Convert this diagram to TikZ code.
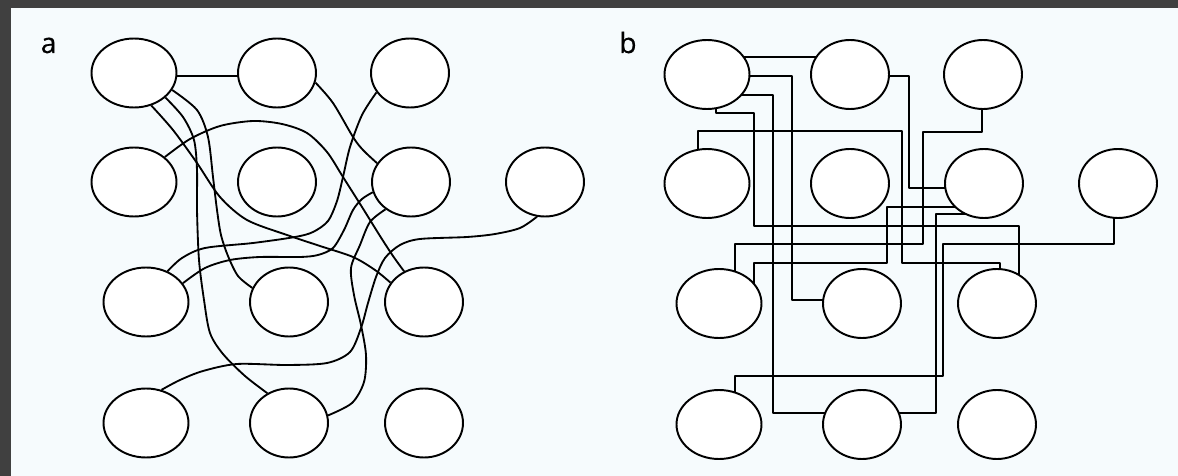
\documentclass[tikz,border=0pt]{standalone}
\usepackage{fontspec}
\setmainfont{Open Sans}
\newfontfamily\panelfont[FakeBold=0.6]{Open Sans}
\usetikzlibrary{shapes.geometric}
\pgfdeclarelayer{paper}
\pgfdeclarelayer{links}
\pgfsetlayers{paper,links,main}
\definecolor{paperbg}{RGB}{246,251,253}
\definecolor{framegray}{RGB}{64,64,64}

\begin{document}
\begin{tikzpicture}[x=0.02cm,y=0.02cm,
  cell/.style={ellipse,draw,line width=1.1pt,fill=white,
    minimum width=1.56cm,minimum height=1.38cm,inner sep=0pt},
  widecell/.style={cell,minimum width=1.70cm},
  panel/.style={anchor=base west,inner sep=0pt,font=\panelfont\fontsize{16}{19}\selectfont},
  wire/.style={line width=1.05pt,line join=round}]
  \useasboundingbox (0,0) rectangle (1178,-476);
  \begin{pgfonlayer}{paper}
    \fill[framegray] (0,0) rectangle (1178,-476);
    \fill[paperbg] (11,-8) rectangle (1178,-476);
  \end{pgfonlayer}
  \node[panel] (la) at (40.5,-53) {a};
  \node[panel] (lb) at (619,-53) {b};
  % the same grid of cells in both panels
  \foreach \p/\dx/\dy in {a/0/0,b/573/-1.5} {
    \begin{scope}[shift={(\dx,\dy)}]
      \foreach \n/\x/\y in {11/134/73,21/134/182,31/146/302,41/146/423}
        \node[widecell] (\p\n) at (\x,-\y) {};
      \foreach \n/\x/\y in {12/277/73,13/410/73,22/277/182,23/411/182,24/545/182,
                             32/289/302,33/424/302,42/289/423,43/424/423}
        \node[cell] (\p\n) at (\x,-\y) {};
    \end{scope}
  }
  \begin{pgfonlayer}{links}
    % a: free curves
    \draw[wire] (a11.center |- 0,-76) -- (a12.center |- 0,-76);
    \draw[wire] plot[smooth] coordinates {(a12.-14) (333,-103) (353,-137) (363,-150) (a23.151)};
    \draw[wire] plot[smooth] coordinates {(a13.210) (362,-115) (350,-147) (343,-177) (337,-201)
      (328,-221) (313,-232) (295,-237) (253,-243) (205,-248) (182,-258) (a31.55)};
    \draw[wire] plot[smooth] coordinates {(a31.27) (205,-268) (230,-260) (260,-257) (300,-257)
      (318,-255) (333,-248) (344,-230) (353,-210) (362,-199) (a23.195)};
    \draw[wire] plot[smooth] coordinates {(a23.227) (370,-222) (360,-245) (351,-268) (354,-295)
      (361,-325) (366,-355) (364,-382) (352,-403) (a42.11)};
    \draw[wire] plot[smooth] coordinates {(a24.257) (520,-228) (495,-234) (467,-237) (420,-239)
      (400,-245) (385,-258) (376,-277) (368,-303) (361,-328) (350,-352) (327,-363) (287,-365)
      (237,-364) (203,-371) (180,-380) (a41.65)};
    \draw[wire] plot[smooth] coordinates {(a11.298) (173,-130) (197,-163) (220,-197) (247,-220)
      (287,-235) (320,-246) (353,-257) (375,-270) (a33.150)};
    \draw[wire] plot[smooth] coordinates {(a11.322) (183,-117) (194,-140) (197,-170) (197,-210)
      (199,-260) (204,-300) (210,-333) (223,-354) (245,-376) (a42.126)};
    \draw[wire] plot[smooth] coordinates {(a11.336) (197,-110) (208,-137) (213,-177) (217,-210)
      (221,-235) (228,-256) (238,-276) (a32.159)};
    \draw[wire] plot[smooth] coordinates {(a21.39) (190,-139) (220,-126) (253,-121) (282,-124)
      (307,-133) (327,-152) (343,-177) (362,-207) (380,-236) (393,-256) (a33.123)};
    % b: right-angled wires
    \draw[wire] (b11.center |- 0,-57) -- (b12.center |- 0,-57);
    \draw[wire] (b11.center |- 0,-76) -| (792,-300) -- (b32.center |- 0,-300);
    \draw[wire] (b11.center |- 0,-95) -| (773,-413) -- (b42.center |- 0,-413);
    \draw[wire] (b11.center -| 716,0) |- (754,-113) |- (1019,-226) -- (b33.center -| 1019,0);
    \draw[wire] (b12.center |- 0,-76) -| (909,-188) -- (b23.center |- 0,-188);
    \draw[wire] (b13.center -| 982,0) |- (923,-132) |- (735,-244) -- (b31.center -| 735,0);
    \draw[wire] (b21.center -| 698,0) |- (902,-131) |- (1000,-263) -- (b33.center -| 1000,0);
    \draw[wire] (b23.center |- 0,-207) -| (887,-263) -| (b31.center -| 754,0);
    \draw[wire] (b23.center |- 0,-214) -| (936,-413) -- (b42.center |- 0,-413);
    \draw[wire] (b24.center -| 1114,0) |- (943,-244) |- (735,-376) -- (b41.center -| 735,0);
  \end{pgfonlayer}
\end{tikzpicture}
\end{document}
